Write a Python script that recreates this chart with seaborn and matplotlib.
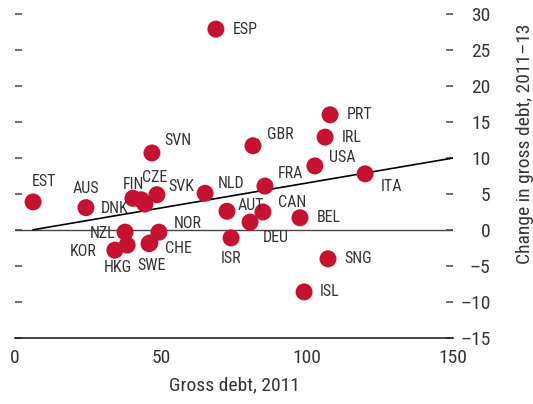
import numpy as np
import pandas as pd
import matplotlib
matplotlib.use("Agg")
import matplotlib.pyplot as plt
from matplotlib import font_manager
import seaborn as sns

# data
countries = ["ESP", "PRT", "IRL", "GBR", "SVN", "USA", "ITA", "FRA", "EST", "AUS",
             "FIN", "CZE", "DNK", "SVK", "NLD", "AUT", "CAN", "DEU", "BEL", "ISR",
             "SNG", "ISL", "NOR", "CHE", "SWE", "NZL", "KOR", "HKG"]
gross_debt_2011 = [68.8, 107.9, 106.2, 81.5, 46.9, 102.7, 119.9, 85.6, 6.2, 24.3,
                   40.4, 43.2, 44.5, 48.6, 65.1, 72.6, 84.9, 80.5, 97.6, 74.0,
                   107.2, 99.0, 49.3, 46.2, 45.9, 37.7, 34.2, 38.4]
change_2011_13 = [27.9, 16.0, 12.9, 11.7, 10.7, 8.9, 7.8, 6.1, 3.9, 3.1,
                  4.4, 4.2, 3.6, 4.9, 5.1, 2.6, 2.5, 1.1, 1.7, -1.1,
                  -4.0, -8.6, -0.3, -1.8, -1.9, -0.3, -2.8, -2.1]
fit_slope = 0.0693
fit_intercept = -0.40

df = pd.DataFrame({"country": countries, "debt": gross_debt_2011, "change": change_2011_13})

# label placement (offset in points, horizontal alignment)
label_pos = {
    "ESP": (12, 0, "left"), "PRT": (12, 0, "left"), "IRL": (12, 0, "left"),
    "GBR": (10, 8, "left"), "SVN": (9, 9, "left"), "USA": (10, 6, "left"),
    "ITA": (11, -9, "left"), "FRA": (9, 9, "left"), "EST": (8, 15, "center"),
    "AUS": (0, 14, "center"), "FIN": (0, 10, "center"), "CZE": (10, 16, "center"),
    "DNK": (-12, -3, "right"), "SVK": (8, 6, "left"), "NLD": (9, 7, "left"),
    "AUT": (8, 4, "left"), "CAN": (11, 7, "left"), "DEU": (9, -11, "left"),
    "BEL": (12, 0, "left"), "ISR": (0, -15, "center"), "SNG": (12, 0, "left"),
    "ISL": (11, 0, "left"), "NOR": (11, 6, "left"), "CHE": (11, -4, "left"),
    "SWE": (2, -16, "center"), "NZL": (-7, -1, "right"), "KOR": (-13, -1, "right"),
    "HKG": (-7, -16, "center"),
}

sns.set_style("white")
names = {f.name for f in font_manager.fontManager.ttflist}
narrow = [n for n in ["Liberation Sans Narrow", "Arial Narrow", "Roboto Condensed"] if n in names]
plt.rcParams["font.family"] = narrow + ["DejaVu Sans"]
plt.rcParams["font.stretch"] = "condensed"
plt.rcParams["font.size"] = 13

fig = plt.figure(figsize=(5.33, 4.04), dpi=100)
ax = fig.add_axes([15 / 533, 1 - 338 / 404, 438 / 533, 324 / 404])

ax.plot([0, 150], [0, 0], color="#444444", lw=1.0, zorder=1)
xs = np.array([min(gross_debt_2011), 150])
ax.plot(xs, fit_intercept + fit_slope * xs, color="black", lw=1.2, zorder=2)

sns.scatterplot(data=df, x="debt", y="change", ax=ax, color="#C41230",
                s=150, edgecolor="none", zorder=3, clip_on=False)

for c, x, y in zip(countries, gross_debt_2011, change_2011_13):
    dx, dy, ha = label_pos[c]
    ax.annotate(c, (x, y), xytext=(dx, dy), textcoords="offset points",
                ha=ha, va="center", fontsize=11.5, color="#333333")

ax.set_xlim(0, 150)
ax.set_ylim(-15, 30)
for s in ["top", "left", "right"]:
    ax.spines[s].set_visible(False)
ax.spines["bottom"].set_color("#222222")
ax.spines["bottom"].set_linewidth(1.2)

ax.set_xticks([0, 50, 100, 150])
ax.tick_params(axis="x", direction="in", length=4, width=1, color="#222222",
               pad=8, labelsize=14, labelcolor="#333333")
yt = list(range(-15, 31, 5))
ax.set_yticks(yt)
ax.set_yticklabels([str(v).replace("-", "\u2013") for v in yt])
ax.tick_params(axis="y", direction="in", length=5, width=1.2, color="#555555",
               left=True, right=True, labelleft=False, labelright=True,
               pad=27, labelsize=14, labelcolor="#333333")
for lab in ax.get_yticklabels():
    lab.set_horizontalalignment("right")

ax.set_xlabel("Gross debt, 2011", fontsize=14, color="#333333", labelpad=7)
ax.set_ylabel("")
fig.text(0.985, 0.645, "Change in gross debt, 2011\u201313", rotation=90,
         ha="center", va="center", fontsize=14, color="#333333")

fig.savefig("out.png", dpi=100)
